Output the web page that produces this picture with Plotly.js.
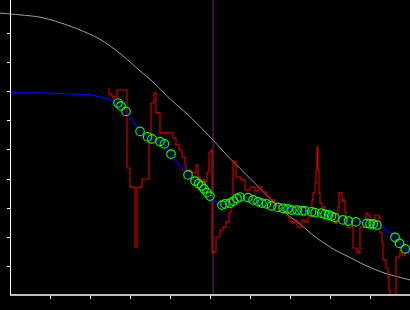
<!DOCTYPE html>
<html>
<head>
<meta charset="utf-8">
<script src="https://cdn.plot.ly/plotly-3.0.1.min.js"></script>
<style>html,body{margin:0;padding:0;background:#000;}#chart{width:410px;height:310px;}</style>
</head>
<body>
<div id="chart"></div>
<script>
// Reference (grey) curve
const refX = [-2.5, 2.5, 7.5, 12.5, 17.5, 22.5, 27.5, 32.5, 35.25, 40.75, 45, 50.75, 55, 60, 65, 70, 72.5, 76.25, 81.25, 83.75, 88.75, 93.75, 100];
const refY = [97.2, 96.6, 95.8, 93.9, 91.4, 88.2, 83.3, 77.3, 74.1, 66.7, 61.5, 53.4, 47.1, 40.2, 33.3, 27.0, 24.5, 20.1, 15.5, 13.8, 10.3, 7.5, 5.2];

// Smoothed (blue) line
const fitX = [0, 7.5, 15, 20, 22.5, 25, 27, 29, 30.75, 32.5, 34.25, 35.5, 37.75, 39, 40.25, 42.5, 44.5, 46.25, 47.5, 48.75, 50, 51.5, 53, 55, 57.5, 58.75, 60, 63, 66, 70, 73.75, 77.5, 81.25, 84.25, 87.5, 91.75, 94, 96.25, 97.5, 98.75, 100];
const fitY = [69.8, 69.7, 69.3, 69.1, 68.3, 67.4, 66.2, 63.4, 60.0, 56.6, 54.5, 53.8, 52.8, 51.4, 48.6, 44.5, 41.4, 39.3, 38.1, 36.2, 34.1, 32.1, 31.0, 31.7, 33.8, 33.8, 33.4, 31.7, 30.7, 29.7, 29.0, 28.3, 26.9, 25.9, 25.0, 24.1, 22.4, 20.0, 17.9, 15.9, 14.5];

// Sample points (green circles)
const ptX = [27, 27.75, 29, 32.5, 34.4, 35.5, 37.5, 38.6, 40.25, 44.5, 46.25, 47.1, 47.9, 48.5, 49.25, 50, 53, 53.75, 55, 55.9, 56.75, 57.5, 59.5, 60.75, 62, 63, 64.1, 65.4, 67, 68.25, 69.5, 70.5, 71.75, 73, 73.75, 75.4, 76.25, 77.9, 78.75, 79.6, 80.4, 81.25, 83.2, 84.6, 86.5, 89.2, 90, 90.8, 91.75, 96.25, 97.4, 98.8];
const ptY = [66.2, 65.2, 63.3, 56.4, 54.5, 53.8, 52.9, 52.1, 48.6, 41.4, 39.3, 38.4, 37.6, 36.6, 35.3, 34.1, 31.0, 31.4, 31.7, 32.4, 33.3, 33.8, 33.6, 32.8, 32.2, 31.7, 31.4, 30.7, 30.2, 29.9, 29.7, 29.3, 29.3, 29.0, 29.0, 28.7, 28.4, 28.2, 27.8, 27.6, 27.2, 26.7, 25.9, 25.5, 25.2, 24.7, 24.5, 24.5, 24.1, 19.9, 17.8, 15.9];

// Raw (red) stepped signal
const rawX = [24.75, 24.75, 25.5, 25.5, 26.75, 26.75, 29.25, 29.25, 30, 30, 31.25, 31.25, 31.75, 31.75, 33, 33, 34.75, 34.75, 35.25, 35.25, 36, 36, 36.5, 36.5, 37.5, 37.5, 40, 40.75, 41.5, 42.25, 43, 43.75, 44, 45.25, 45.5, 46.5, 47, 47.5, 48, 48.75, 49.25, 49.5, 49.75, 50.25, 50.5, 50.5, 51.5, 51.5, 52.5, 52.5, 53.25, 53.25, 54, 54, 54.75, 54.75, 55.25, 55.25, 55.75, 55.75, 56.5, 56.5, 57.75, 57.75, 58.75, 58.75, 60, 60, 61.25, 61.25, 62, 62, 63, 63, 64.25, 64.25, 65, 65, 65.75, 66.25, 67.5, 68.75, 69.5, 70, 70.75, 71.25, 71.75, 72.5, 73, 73.75, 74.25, 74.5, 75.25, 75.5, 75.75, 76.25, 76.5, 76.75, 77, 77, 77.25, 77.5, 78, 78.75, 79, 79.5, 80.25, 80.75, 81.25, 81.75, 82, 82.25, 82.75, 83, 83.25, 83.75, 84, 84.5, 85.5, 85.75, 86.75, 87.25, 87.5, 88.75, 89, 89.5, 90, 91, 91.25, 92.25, 92.5, 93, 93.25, 93.75, 94, 94.5, 94.75, 95, 96.25, 96.5, 97.5, 97.5, 98, 98.75, 100];
const rawY = [71.4, 69.3, 69.3, 68.3, 68.3, 70.7, 70.7, 43.8, 43.8, 37.2, 37.2, 16.6, 16.6, 37.2, 37.2, 40.0, 40.0, 52.4, 52.4, 66.2, 66.2, 69.7, 69.7, 62.8, 62.8, 55.9, 55.9, 54.1, 51.7, 50.0, 47.6, 44.8, 43.1, 42.8, 42.1, 44.8, 40.7, 39.0, 39.7, 39.0, 42.1, 42.4, 49.3, 50.0, 50.0, 14.8, 14.8, 20.0, 20.0, 22.4, 22.4, 23.4, 23.4, 25.2, 25.2, 28.6, 28.6, 30.3, 30.3, 46.2, 46.2, 40.7, 40.7, 39.7, 39.7, 36.2, 36.2, 37.2, 37.2, 35.9, 35.9, 37.2, 37.2, 35.5, 35.5, 33.8, 33.8, 32.8, 32.8, 31.0, 29.3, 28.6, 26.9, 25.2, 24.8, 25.9, 23.4, 23.4, 25.9, 25.2, 25.2, 26.9, 28.6, 32.8, 35.2, 38.6, 43.1, 51.0, 51.0, 43.1, 35.2, 31.7, 30.3, 29.3, 27.6, 26.9, 28.3, 25.9, 24.8, 26.6, 30.3, 35.2, 35.2, 32.4, 32.8, 28.6, 24.8, 23.4, 24.1, 16.2, 14.8, 14.5, 23.4, 24.1, 28.3, 27.6, 24.1, 24.1, 27.6, 26.9, 21.4, 17.9, 12.1, 12.1, 9.3, 6.2, 1.7, -0.7, -0.7, 13.1, 13.1, 15.5, 13.8, 14.5, 13.8];

// Vertical marker position
const markerX = [50.75];

const xTicks = [10, 20, 30, 40, 50, 60, 70, 80, 90];
const yTicks = [10, 20, 30, 40, 50, 60, 70, 80, 90];

const traces = [
  {x: refX, y: refY, mode: 'lines', line: {color: 'rgb(160,160,160)', width: 1, shape: 'spline', smoothing: 0.8}, hoverinfo: 'skip'},
  {x: rawX, y: rawY, mode: 'lines', line: {color: 'rgb(215,0,0)', width: 1.1, shape: 'hv'}, hoverinfo: 'skip'},
  {x: fitX, y: fitY, mode: 'lines', line: {color: 'rgb(0,0,255)', width: 1.2, shape: 'spline', smoothing: 0.6}, hoverinfo: 'skip'},
  {x: ptX, y: ptY, mode: 'markers', marker: {symbol: 'circle-open', size: 8.5, color: 'rgb(0,255,0)', line: {width: 1.2, color: 'rgb(0,255,0)'}}, hoverinfo: 'skip'}
];

const layout = {
  width: 410, height: 310,
  margin: {l: 0, r: 0, t: 0, b: 15, pad: 0},
  paper_bgcolor: '#000', plot_bgcolor: '#000',
  showlegend: false,
  xaxis: {range: [-2.5, 100], showgrid: false, zeroline: false, showline: false,
          tickmode: 'array', tickvals: xTicks, ticks: 'outside', ticklen: 3, tickwidth: 1, tickcolor: '#fff',
          showticklabels: false, fixedrange: true},
  yaxis: {range: [0, 101.72], showgrid: false, zeroline: false, showline: true, linecolor: '#fff', linewidth: 1,
          anchor: 'free', position: 10 / 410,
          tickmode: 'array', tickvals: yTicks, ticks: 'outside', ticklen: 3, tickwidth: 1, tickcolor: '#fff',
          showticklabels: false, fixedrange: true},
  shapes: [
    {type: 'line', xref: 'x', yref: 'paper', x0: markerX[0], x1: markerX[0], y0: 0, y1: 1,
     line: {color: 'rgb(128,30,128)', width: 1}, layer: 'below'},
    {type: 'line', xref: 'paper', yref: 'paper', x0: 10 / 410, x1: 1, y0: 0, y1: 0,
     line: {color: '#fff', width: 1.5}, layer: 'above'}
  ]
};

Plotly.newPlot('chart', traces, layout, {displayModeBar: false, staticPlot: true});
</script>
</body>
</html>
